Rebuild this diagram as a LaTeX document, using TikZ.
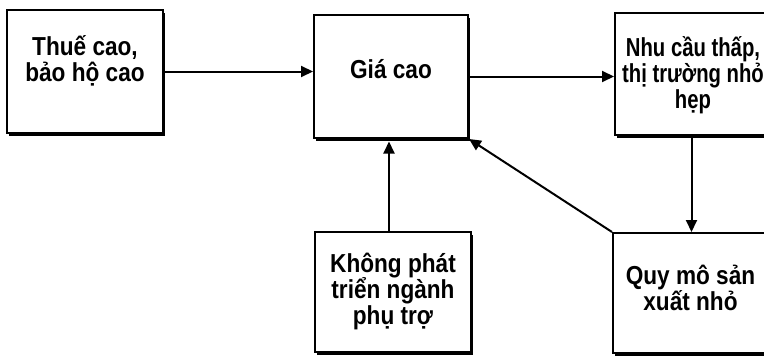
\documentclass[tikz,border=0pt]{standalone}
\usepackage{fontspec}
\setmainfont[FakeStretch=0.87]{Liberation Sans}
\newfontfamily\hepfont[FakeStretch=0.78]{Liberation Sans}
\usepackage{tikz}
\usetikzlibrary{arrows.meta,shadows}

\begin{document}
\begin{tikzpicture}[x=1pt, y=-1pt,
    hop/.style={draw, line width=2pt, fill=white, inner sep=0pt,
        drop shadow={shadow xshift=1.5pt, shadow yshift=-2.5pt, fill=black, opacity=1}},
    chu/.style={align=center, inner sep=0pt,
        font=\fontsize{26}{26}\selectfont\bfseries\setlength{\lineskiplimit}{-20pt}},
    muiten/.style={line width=2pt, -{Triangle[length=12pt, width=11pt]}}]
    \useasboundingbox (0,0) rectangle (764,356);

    % các hộp
    \node[hop, minimum width=156pt, minimum height=123pt] (thue) at (85,71.5) {};
    \node[hop, minimum width=154pt, minimum height=123pt] (gia) at (391,76.5) {};
    \node[hop, minimum width=153pt, minimum height=122pt] (nhucau) at (691.5,74) {};
    \node[hop, minimum width=156pt, minimum height=120pt] (khong) at (393,292) {};
    \node[hop, minimum width=155pt, minimum height=120pt] (quymo) at (690.5,293) {};

    % chữ
    \node[chu, yshift=11pt] (thue-chu) at (thue) {Thuế cao,\\bảo hộ cao};
    \node[chu, yshift=7pt] (gia-chu) at (gia) {Giá cao};
    \node[chu, xshift=1.5pt, yshift=-1pt, font=\fontsize{26}{26}\hepfont\bfseries\setlength{\lineskiplimit}{-20pt}]
        (nhucau-chu) at (nhucau) {Nhu cầu thấp,\\thị trường nhỏ\\hẹp};
    \node[chu, yshift=1pt] (khong-chu) at (khong) {Không phát\\triển ngành\\phụ trợ};
    \node[chu, yshift=5pt] (quymo-chu) at (quymo) {Quy mô sản\\xuất nhỏ};

    % mũi tên
    \draw[muiten] (thue.east) -- (thue.east -| gia.west);
    \draw[muiten] (gia.east) -- (gia.east -| nhucau.west);
    \draw[muiten] (nhucau.south) -- (nhucau.south |- quymo.north);
    \draw[muiten] ([xshift=-4pt]khong.north) -- ([xshift=-4pt, yshift=-2.5pt]khong.north |- gia.south);
    \draw[muiten] (quymo.north west) -- (gia.south east);
\end{tikzpicture}
\end{document}
